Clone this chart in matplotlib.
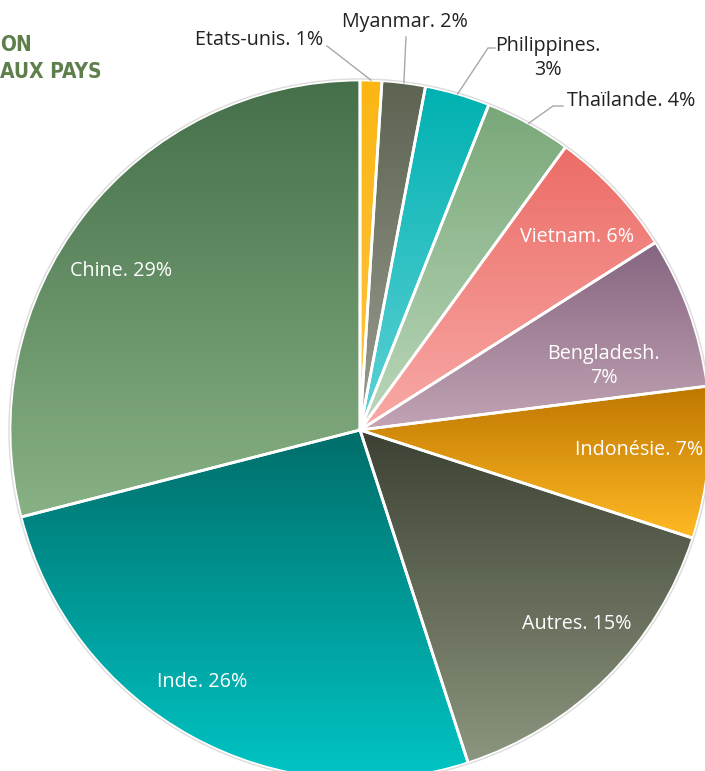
import numpy as np
import matplotlib.pyplot as plt
from matplotlib.colors import LinearSegmentedColormap

countries = ['Etats-unis', 'Myanmar', 'Philippines', 'Thaïlande', 'Vietnam',
             'Bengladesh', 'Indonésie', 'Autres', 'Inde', 'Chine']
shares = [1, 2, 3, 4, 6, 7, 7, 15, 26, 29]

# gradient colours (top, bottom) per slice
tops = ['#fbb614', '#5c6351', '#00b1b1', '#79a778', '#ec6c66',
        '#856580', '#bf7600', '#3c4233', '#006e6a', '#456f49']
bottoms = ['#ffc441', '#9b9e92', '#5fd2d6', '#bcd8bb', '#f8aaa7',
           '#c2a4b5', '#ffba24', '#8c957f', '#00c5c5', '#88b185']

CX, CY, R = 360, 430, 350
W, H = 705, 771
FS = 14.2


def px(x, y):
    return (x - CX) / R, (CY - y) / R


fig = plt.figure(figsize=(W / 100, H / 100), dpi=100)
ax = fig.add_axes([0, 0, 1, 1])

wedges, _ = ax.pie(shares, startangle=90, counterclock=False, radius=1,
                   wedgeprops=dict(edgecolor='white', linewidth=2))

grad = np.linspace(0, 1, 256)[:, None]
for w, c0, c1 in zip(wedges, tops, bottoms):
    ext = w.get_path().get_extents()
    cmap = LinearSegmentedColormap.from_list('g', [c0, c1])
    im = ax.imshow(grad, cmap=cmap, extent=(ext.x0, ext.x1, ext.y0, ext.y1),
                   origin='upper', aspect='auto', interpolation='bilinear', zorder=1)
    im.set_clip_path(w)
    w.set_facecolor('none')
    w.set_zorder(2)

ax.add_patch(plt.Circle((0, 0), 1.003, fill=False, edgecolor='#dcdcdc', lw=1, zorder=3))

font = ['Open Sans', 'DejaVu Sans']


def mid_point(w, r):
    a = np.deg2rad((w.theta1 + w.theta2) / 2)
    return r * np.cos(a), r * np.sin(a)


# inside labels: (index, radius fraction, angle shift deg)
inside = {4: (0.83, -1.6), 5: (0.72, -5), 6: (0.80, 1.3), 7: (0.83, 3.2),
          8: (0.85, -3.2), 9: (0.82, 4.2)}
for i, (rf, da) in inside.items():
    w = wedges[i]
    a = np.deg2rad((w.theta1 + w.theta2) / 2 + da)
    lab = f'{countries[i]}. {shares[i]}%'
    if countries[i] == 'Bengladesh':
        lab = f'{countries[i]}.\n{shares[i]}%'
    ax.text(rf * np.cos(a), rf * np.sin(a), lab, ha='center', va='center',
            color='white', fontsize=FS, family=font, zorder=4, linespacing=1.25)

# outside labels with leader lines
line_kw = dict(color='#a8a8a8', lw=1, zorder=4)
ax_pt = mid_point(wedges[0], 1.0)
x1, y1 = px(327, 46)
ax.plot([ax_pt[0], x1], [ax_pt[1], y1], **line_kw)
ax.text(*px(323, 40), f'{countries[0]}. {shares[0]}%', ha='right', va='center',
        color='#222222', fontsize=FS, family=font)

ax_pt = mid_point(wedges[1], 1.0)
x1, y1 = px(406, 37)
ax.plot([ax_pt[0], x1], [ax_pt[1], y1], **line_kw)
ax.text(*px(405, 22), f'{countries[1]}. {shares[1]}%', ha='center', va='center',
        color='#222222', fontsize=FS, family=font)

ax_pt = mid_point(wedges[2], 1.0)
xa, ya = px(488, 48)
xb, yb = px(495, 48)
ax.plot([ax_pt[0], xa, xb], [ax_pt[1], ya, yb], **line_kw)
ax.text(*px(548, 58), f'{countries[2]}.\n{shares[2]}%', ha='center', va='center',
        color='#222222', fontsize=FS, family=font, linespacing=1.25)

ax_pt = mid_point(wedges[3], 1.0)
xa, ya = px(553, 106)
xb, yb = px(563, 106)
ax.plot([ax_pt[0], xa, xb], [ax_pt[1], ya, yb], **line_kw)
ax.text(*px(567, 101), f'{countries[3]}. {shares[3]}%', ha='left', va='center',
        color='#222222', fontsize=FS, family=font)

# cropped title
ax.text(*px(0, 45), 'ON', ha='left', va='center', color='#5e7e4c',
        fontsize=15, fontweight='bold', fontstretch='condensed', family='DejaVu Sans')
ax.text(*px(0, 72), 'AUX PAYS', ha='left', va='center', color='#5e7e4c',
        fontsize=15, fontweight='bold', fontstretch='condensed', family='DejaVu Sans')

ax.set_xlim(-CX / R, (W - CX) / R)
ax.set_ylim(-(H - CY) / R, CY / R)
ax.axis('off')
fig.savefig('out.png', dpi=100)
